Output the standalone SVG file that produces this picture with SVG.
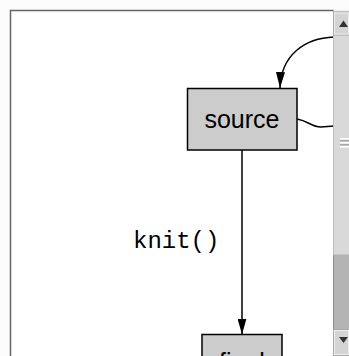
<svg xmlns="http://www.w3.org/2000/svg" width="349" height="356" viewBox="0 0 349 356">
  <style>
    .node rect { fill: #cccccc; stroke: #000000; stroke-width: 1.5; }
    .node text { font-family: "Liberation Sans", Arial, sans-serif; font-size: 25px; fill: #000000; text-anchor: middle; }
    .edge { fill: none; stroke: #000000; stroke-width: 1.5; }
    .label { font-family: "Liberation Mono", "Courier New", monospace; font-size: 24px; fill: #000000; }
  </style>
  <defs>
    <marker id="head" viewBox="0 0 16 9" refX="16" refY="4.5" markerWidth="16" markerHeight="9" orient="auto" markerUnits="userSpaceOnUse">
      <path d="M0,0 L16,4.5 L0,9 Z" fill="#000000"/>
    </marker>
  </defs>

  <!-- window background and viewport frame -->
  <rect x="0" y="0" width="349" height="356" fill="#fcfcfc"/>
  <rect x="10.5" y="10.5" width="340" height="350" fill="#ffffff"/>
  <path d="M10.5,356 V10.5 H334" fill="none" stroke="#666666" stroke-width="1.5"/>

  <!-- connectors -->
  <g id="edges">
    <path class="edge" d="M334,37 C305,38 281,55 280,88" marker-end="url(#head)"/>
    <path class="edge" d="M297,119 C309,121 311,127 321,127 L334,126"/>
    <path class="edge" d="M242,150 V334.5" marker-end="url(#head)"/>
    <text class="label" x="133" y="248">knit()</text>
  </g>

  <!-- nodes -->
  <g id="source" class="node">
    <rect x="187.5" y="88.5" width="109.5" height="61.5"/>
    <text x="242" y="128">source</text>
  </g>
  <g id="final" class="node">
    <rect x="202" y="334.5" width="80" height="40"/>
    <text x="242" y="371">final</text>
  </g>

  <!-- vertical scrollbar -->
  <g id="scrollbar">
    <rect x="333" y="10.5" width="16" height="345.5" fill="#d9d9d9"/>
    <line x1="333.5" y1="10.5" x2="333.5" y2="356" stroke="#bdbdbd" stroke-width="1"/>
    <!-- up button -->
    <rect x="333.5" y="12" width="16" height="23" fill="#d4d4d4" stroke="#a8a8a8" stroke-width="1"/>
    <rect x="334.5" y="13" width="14" height="21" fill="none" stroke="#efefef" stroke-width="1"/>
    <path d="M339,27 L343.5,20.5 L348,27 Z" fill="#333333"/>
    <!-- thumb -->
    <rect x="334" y="36" width="15" height="219" fill="#d9d9d9"/>
    <line x1="334" y1="254.5" x2="349" y2="254.5" stroke="#c4c4c4" stroke-width="1"/>
    <rect x="340" y="138" width="9" height="1.5" fill="#ffffff"/>
    <rect x="340" y="140" width="9" height="1.5" fill="#a8a8a8"/>
    <rect x="340" y="142" width="9" height="1.5" fill="#ffffff"/>
    <rect x="340" y="144" width="9" height="1.5" fill="#a8a8a8"/>
    <rect x="340" y="146" width="9" height="1.5" fill="#ffffff"/>
    <!-- track below thumb -->
    <rect x="333" y="255" width="16" height="74" fill="#b4b4b4"/>
    <line x1="333.5" y1="255" x2="333.5" y2="329" stroke="#8c8c8c" stroke-width="1"/>
    <!-- down button -->
    <rect x="333.5" y="329.5" width="16" height="26" fill="#d4d4d4" stroke="#a8a8a8" stroke-width="1"/>
    <rect x="334.5" y="330.5" width="14" height="24" fill="none" stroke="#efefef" stroke-width="1"/>
    <path d="M339,337 L343.5,343 L348,337 Z" fill="#333333"/>
  </g>
</svg>
